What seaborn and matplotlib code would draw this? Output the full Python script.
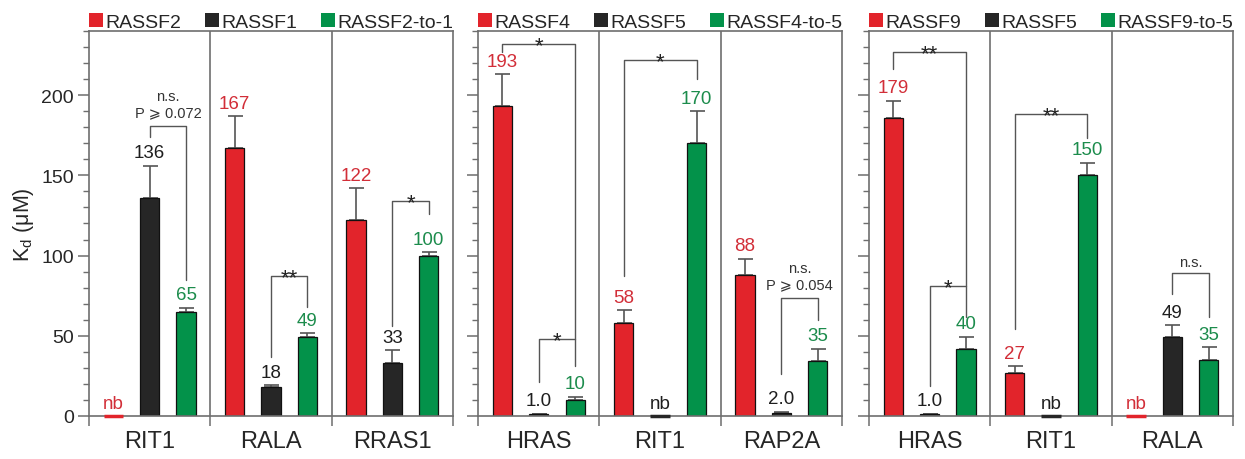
import seaborn as sns
import matplotlib.pyplot as plt
import pandas as pd
from matplotlib.patches import Patch

# colours: RASSF A, RASSF B, chimera
colors = ['#E2242B', '#262626', '#03924A']
text_colors = ['#D22E38', '#1E1E1E', '#1C8C4C']
grey = '#6E6E6E'

# panel 1
p1_targets = ['RIT1', 'RALA', 'RRAS1']
p1_proteins = ['RASSF2', 'RASSF1', 'RASSF2-to-1']
p1_kd = [[0, 136, 65], [167, 18, 49], [122, 33, 100]]
p1_err = [[0, 20, 2.5], [20, 1.3, 2.5], [20, 8, 2]]
p1_labels = [['nb', '136', '65'], ['167', '18', '49'], ['122', '33', '100']]

# panel 2
p2_targets = ['HRAS', 'RIT1', 'RAP2A']
p2_proteins = ['RASSF4', 'RASSF5', 'RASSF4-to-5']
p2_kd = [[193, 1.0, 10], [58, 0, 170], [88, 2.0, 34]]
p2_err = [[20, 0.5, 2], [8, 0, 20], [10, 0.7, 8]]
p2_labels = [['193', '1.0', '10'], ['58', 'nb', '170'], ['88', '2.0', '35']]

# panel 3
p3_targets = ['HRAS', 'RIT1', 'RALA']
p3_proteins = ['RASSF9', 'RASSF5', 'RASSF9-to-5']
p3_kd = [[186, 1.0, 41.5], [27, 0, 150], [0, 49, 35]]
p3_err = [[10.5, 0.5, 8], [4, 0, 8], [0, 7.5, 8]]
p3_labels = [['179', '1.0', '40'], ['27', 'nb', '150'], ['nb', '49', '35']]

# significance brackets: (target, bar i, bar j, top, left end, right end, text)
p1_sig = [(0, 1, 2, 181, 174, 85, 'n.s.\nP ⩾ 0.072'),
          (1, 1, 2, 87, 37, 68, '**'),
          (2, 1, 2, 134, 56, 126, '*')]
p2_sig = [(0, 0, 2, 232, 227, 31, '*'),
          (0, 1, 2, 48, 21, 48, '*'),
          (1, 0, 2, 222, 87, 210, '*'),
          (2, 1, 2, 73.5, 26, 60, 'n.s.\nP ⩾ 0.054')]
p3_sig = [(0, 0, 2, 227, 216, 81, '**'),
          (0, 1, 2, 81, 19, 62, '*'),
          (1, 0, 2, 188, 54, 173, '**'),
          (2, 1, 2, 89, 76, 62, 'n.s.')]

panels = [
    (p1_targets, p1_proteins, p1_kd, p1_err, p1_labels, p1_sig),
    (p2_targets, p2_proteins, p2_kd, p2_err, p2_labels, p2_sig),
    (p3_targets, p3_proteins, p3_kd, p3_err, p3_labels, p3_sig),
]

sns.set_style('white')
plt.rcParams['font.family'] = ['Liberation Sans', 'DejaVu Sans']

fig = plt.figure(figsize=(12.45, 4.6), dpi=100)
lefts = [0.0715, 0.384, 0.698]

for k, (targets, proteins, kd, err, labels, sig) in enumerate(panels):
    ax = fig.add_axes([lefts[k], 0.0935, 0.2924, 0.837])
    rows = []
    for t, target in enumerate(targets):
        for h, prot in enumerate(proteins):
            rows.append({'target': target, 'protein': prot, 'kd': kd[t][h]})
    df = pd.DataFrame(rows)
    sns.barplot(data=df, x='target', y='kd', hue='protein', order=targets,
                hue_order=proteins, palette=colors, saturation=1, width=0.9,
                gap=0.47, errorbar=None, legend=False, edgecolor='#111111',
                linewidth=0.9, ax=ax)

    # bar centres from the drawn bars
    centers = {}
    for h, cont in enumerate(ax.containers):
        for bar in cont:
            cx = bar.get_x() + bar.get_width() / 2
            t = int(round(cx))
            centers[(t, h)] = cx
            if kd[t][h] == 0:
                # no binding: flat stroke on the baseline
                ax.plot([bar.get_x(), bar.get_x() + bar.get_width()], [0, 0],
                        color=colors[h], lw=2.5, clip_on=False, zorder=4,
                        solid_capstyle='butt')

    for (t, h), cx in centers.items():
        v, e = kd[t][h], err[t][h]
        if e > 0:
            ax.errorbar(cx, v, yerr=[[0], [e]], fmt='none', ecolor='#555555',
                        elinewidth=1.2, capsize=5.4, capthick=1.2, zorder=0.5)
        ax.annotate(labels[t][h], xy=(cx, v + e), xytext=(0, 6),
                    textcoords='offset points', ha='center', va='baseline',
                    fontsize=13.5, color=text_colors[h])

    for t, i, j, top, l_end, r_end, txt in sig:
        x1, x2 = centers[(t, i)], centers[(t, j)]
        ax.plot([x1, x1, x2, x2], [l_end, top, top, r_end], color='#555555',
                lw=1.0, zorder=3)
        xm = (x1 + x2) / 2
        if txt.startswith('n.s.'):
            parts = txt.split('\n')
            if len(parts) == 2:
                ax.annotate(parts[1], xy=(xm, top), xytext=(0, 7),
                            textcoords='offset points', ha='center',
                            va='baseline', fontsize=10.5, color='#333333')
                ax.annotate(parts[0], xy=(xm, top), xytext=(0, 18.5),
                            textcoords='offset points', ha='center',
                            va='baseline', fontsize=10.5, color='#333333')
            else:
                ax.annotate(parts[0], xy=(xm, top), xytext=(0, 5),
                            textcoords='offset points', ha='center',
                            va='baseline', fontsize=10.5, color='#333333')
        else:
            ax.annotate(txt, xy=(xm, top), xytext=(0, -5),
                        textcoords='offset points', ha='center',
                        va='baseline', fontsize=16, color='#222222')

    # dividers between targets
    for b in [0.5, 1.5]:
        ax.axvline(b, color=grey, lw=1.2, zorder=0)

    ax.set_xlim(-0.5, 2.5)
    ax.set_ylim(0, 240)
    ax.set_yticks([0, 50, 100, 150, 200])
    ax.set_yticks(range(0, 241, 10), minor=True)
    ax.set_xticks([-0.5, 0.5, 1.5, 2.5], minor=True)
    ax.tick_params(axis='y', which='major', direction='out', length=8,
                   width=1.1, color=grey, labelsize=14, pad=3, left=True)
    ax.tick_params(axis='y', which='minor', direction='out', length=4.5,
                   width=1.0, color=grey, left=True)
    ax.tick_params(axis='x', which='major', length=0, labelsize=17, pad=10)
    ax.tick_params(axis='x', which='minor', direction='out', length=7,
                   width=1.1, color=grey, bottom=True)
    for s in ax.spines.values():
        s.set_visible(True)
        s.set_color(grey)
        s.set_linewidth(1.2)
    ax.set_xlabel('')
    if k == 0:
        ax.set_ylabel(r'K$_\mathregular{d}$ (μM)', fontsize=15.5, labelpad=4)
    else:
        ax.set_ylabel('')
        ax.set_yticklabels([])

    handles = [Patch(facecolor=c, edgecolor='none') for c in colors]
    ax.legend(handles, proteins, ncol=3, mode='expand', loc='lower left',
              bbox_to_anchor=(0, 1.0, 1, 0.08), frameon=False,
              fontsize=14, handlelength=0.72, handleheight=0.72,
              handletextpad=0.1, borderaxespad=0, borderpad=0,
              columnspacing=0.5)

plt.savefig('out.png', dpi=100)
